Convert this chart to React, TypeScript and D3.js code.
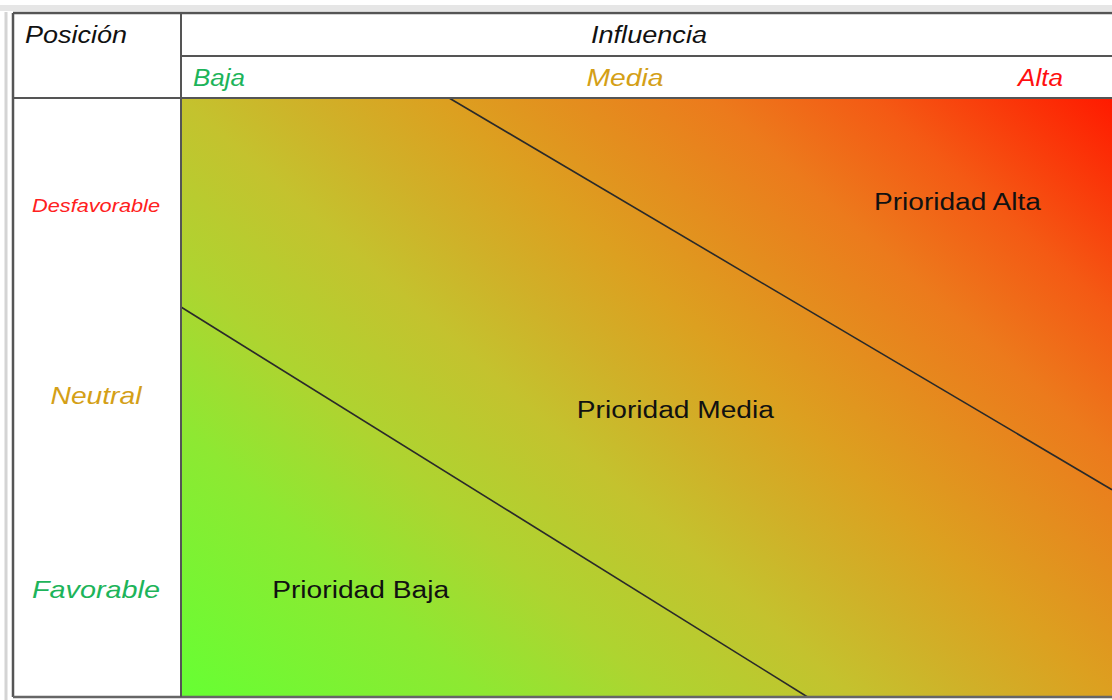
import React from "react";
import * as d3 from "d3";

const columns = ["Baja", "Media", "Alta"];
const columnColors = ["#1db45a", "#d4a017", "#ff1010"];
const rows = ["Desfavorable", "Neutral", "Favorable"];
const rowColors = ["#ff2020", "#d4a017", "#1db45a"];
const rowSizes = [18, 24, 24];
const zones = ["Prioridad Alta", "Prioridad Media", "Prioridad Baja"];
const zoneX = [0.834, 0.531, 0.193];
const zoneY = [0.813, 0.466, 0.165];
// boundary lines in unit coordinates (influence x, position y)
const boundaries = [
  [[0.288, 1], [1, 0.346]],
  [[0, 0.651], [0.673, 0]],
];
const gradientStops = [
  { offset: 0, color: "#66ff33" },
  { offset: 0.19, color: "#8ee832" },
  { offset: 0.3, color: "#aed430" },
  { offset: 0.42, color: "#c4c22e" },
  { offset: 0.5, color: "#d0b028" },
  { offset: 0.58, color: "#dca020" },
  { offset: 0.75, color: "#ec7a1c" },
  { offset: 0.85, color: "#f45a14" },
  { offset: 1, color: "#ff1a00" },
];

export default function App() {
  const W = 1112, H = 700;
  const left = 13, top = 13, bottom = 697, colX = 181, headMid = 56, headBot = 98, right = 1112;
  const x = d3.scaleLinear().domain([0, 1]).range([colX, right]);
  const y = d3.scaleLinear().domain([0, 1]).range([bottom, headBot]);
  const line = d3.line<number[]>().x((d) => x(d[0])).y((d) => y(d[1]));
  const font = "'Liberation Sans', Arial, sans-serif";
  const colPos = [
    { x: 193, anchor: "start", w: 52 },
    { x: 625, anchor: "middle", w: 77 },
    { x: 1063, anchor: "end", w: 45 },
  ];
  const rowY = [212, 404, 598];
  const rowW = [128, 91, 128];
  const zoneW = [167, 197, 177];
  // gradient direction: from bottom-left, tilted so top-left is greener than bottom-right
  const vx = 1, vy = 1.125;
  const pw = x(1) - x(0), ph = y(0) - y(1);
  const s = (pw * vx + ph * vy) / (vx * vx + vy * vy);
  return (
    <div style={{ position: "absolute", left: 0, top: 0 }}>
      <svg width={W} height={H} style={{ display: "block" }}>
        <defs>
          <linearGradient id="g" gradientUnits="userSpaceOnUse" x1={x(0)} y1={y(0)} x2={x(0) + s * vx} y2={y(0) - s * vy}>
            {gradientStops.map((st, i) => (
              <stop key={i} offset={st.offset} stopColor={st.color} />
            ))}
          </linearGradient>
        </defs>
        <rect x={0} y={0} width={W} height={H} fill="#fff" />
        <rect x={0} y={5} width={W} height={6} fill="#e6e6e6" />
        <line x1={6} y1={12} x2={6} y2={H} stroke="#d4d4d4" strokeWidth={3} />
        <rect x={colX} y={headBot} width={right - colX} height={bottom - headBot} fill="url(#g)" />
        {boundaries.map((b, i) => (
          <path key={i} d={line(b) || ""} stroke="#2a2a2a" strokeWidth={1.6} fill="none" />
        ))}
        <line x1={left} y1={top} x2={right} y2={top} stroke="#555" strokeWidth={2.5} />
        <line x1={left} y1={top} x2={left} y2={bottom} stroke="#555" strokeWidth={2.5} />
        <line x1={left} y1={bottom} x2={right} y2={bottom} stroke="#666" strokeWidth={2.5} />
        <line x1={colX} y1={top} x2={colX} y2={bottom} stroke="#555" strokeWidth={2} />
        <line x1={colX} y1={headMid} x2={right} y2={headMid} stroke="#555" strokeWidth={2} />
        <line x1={left} y1={headBot} x2={right} y2={headBot} stroke="#555" strokeWidth={2} />
        <text x={25} y={43} fontFamily={font} fontStyle="italic" fontSize={23} fill="#111"
          textLength={102} lengthAdjust="spacingAndGlyphs">Posición</text>
        <text x={649} y={43} fontFamily={font} fontStyle="italic" fontSize={23} fill="#111" textAnchor="middle"
          textLength={116} lengthAdjust="spacingAndGlyphs">Influencia</text>
        {columns.map((c, i) => (
          <text key={c} x={colPos[i].x} y={86} fontFamily={font} fontStyle="italic" fontSize={23}
            fill={columnColors[i]} textAnchor={colPos[i].anchor as any}
            textLength={colPos[i].w} lengthAdjust="spacingAndGlyphs">{c}</text>
        ))}
        {rows.map((r, i) => (
          <text key={r} x={96} y={rowY[i]} fontFamily={font} fontStyle="italic" fontSize={rowSizes[i]}
            fill={rowColors[i]} textAnchor="middle" textLength={rowW[i]} lengthAdjust="spacingAndGlyphs">{r}</text>
        ))}
        {zones.map((z, i) => (
          <text key={z} x={x(zoneX[i])} y={y(zoneY[i])} fontFamily={font} fontSize={23} fill="#111"
            textAnchor="middle" textLength={zoneW[i]} lengthAdjust="spacingAndGlyphs">{z}</text>
        ))}
      </svg>
    </div>
  );
}
